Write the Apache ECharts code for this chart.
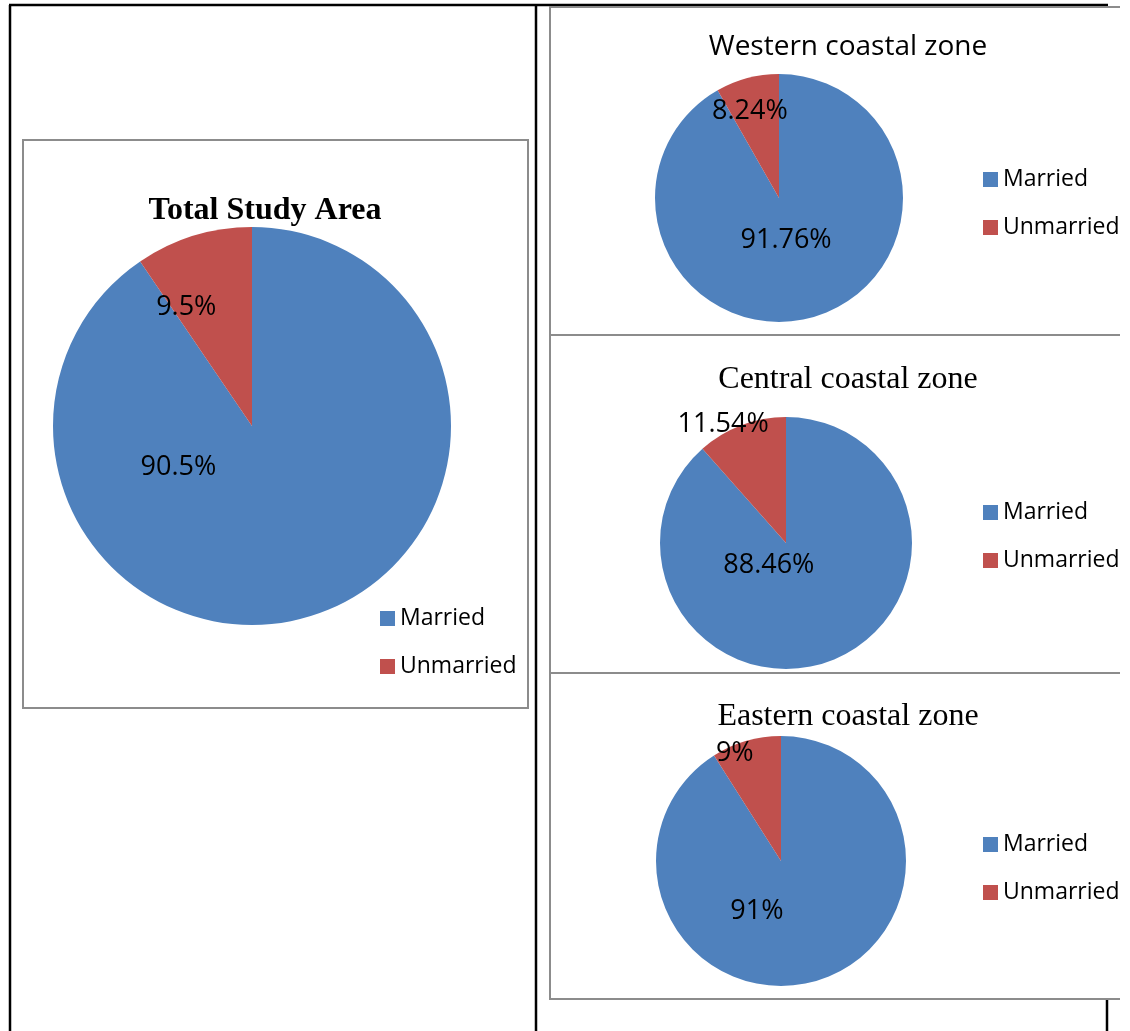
<!DOCTYPE html>
<html>
<head>
<meta charset="utf-8">
<title>Marital status by zone</title>
<script src="https://cdn.jsdelivr.net/npm/echarts@6/dist/echarts.min.js"></script>
<style>
  html, body { margin: 0; padding: 0; background: #ffffff; }
  #chart { width: 1130px; height: 1031px; }
</style>
</head>
<body>
<div id="chart"></div>
<script>
// Marital status shares (%) for the whole study area and each coastal zone
const categories = ['Married', 'Unmarried'];
const totalArea = [90.5, 9.5];
const westernZone = [91.76, 8.24];
const centralZone = [88.46, 11.54];
const easternZone = [91, 9];

const panelTitles = ['Total Study Area', 'Western coastal zone', 'Central coastal zone', 'Eastern coastal zone'];

const BLUE = '#4F81BD';
const RED = '#C0504D';
const LABEL_FONT = '"Open Sans", "Noto Sans", sans-serif';
const SERIF = '"Liberation Serif", "DejaVu Serif", serif';

// Pie geometry: centre and radius per panel
const pies = [
  { values: totalArea,   center: [252, 426], radius: 199 },
  { values: westernZone, center: [779, 198], radius: 124 },
  { values: centralZone, center: [786, 543], radius: 126 },
  { values: easternZone, center: [781, 861], radius: 125 }
];

// Best-fit label spots: [angle clockwise from 12 o'clock (deg), distance as fraction of radius]
const labelSpots = [
  [[-118.4, 0.42], [-28.6, 0.69]],
  [[170, 0.33], [-18.2, 0.75]],
  [[220.4, 0.21], [-27.5, 1.08]],
  [[206.6, 0.43], [-22.9, 0.95]]
];
// small baseline nudge so the glyphs sit visually centred
const LABEL_NUDGE_Y = 2;

const series = pies.map(function (p, si) {
  return {
    type: 'pie',
    center: p.center,
    radius: p.radius,
    startAngle: 90,
    clockwise: true,
    animation: false,
    silent: true,
    itemStyle: { borderWidth: 0 },
    label: {
      show: true,
      position: 'inside',
      color: '#000',
      fontFamily: LABEL_FONT,
      fontSize: 27,
      formatter: function (d) { return d.value + '%'; }
    },
    labelLine: { show: false },
    labelLayout: function (params) {
      const spot = labelSpots[si][params.dataIndex];
      const a = spot[0] * Math.PI / 180;
      const r = spot[1] * p.radius;
      return {
        x: p.center[0] + r * Math.sin(a),
        y: p.center[1] - r * Math.cos(a) + LABEL_NUDGE_Y,
        align: 'center',
        verticalAlign: 'middle'
      };
    },
    data: categories.map(function (c, i) {
      return { name: c, value: p.values[i], itemStyle: { color: i === 0 ? BLUE : RED } };
    })
  };
});

// Legend placement per panel (left edge of swatch, top of first row)
const legendSpots = [[380, 607], [983, 168], [983, 501], [983, 833]];
const legends = legendSpots.map(function (pos) {
  return {
    data: categories,
    orient: 'vertical',
    left: pos[0],
    top: pos[1],
    padding: 0,
    icon: 'rect',
    itemWidth: 15,
    itemHeight: 15,
    itemGap: 25,
    selectedMode: false,
    textStyle: { fontFamily: LABEL_FONT, fontSize: 23, lineHeight: 22, color: '#000' }
  };
});

const titleStyles = [
  { x: 265, y: 211, font: 'bold 32px ' + SERIF },
  { x: 848, y: 47,  font: '28px ' + LABEL_FONT },
  { x: 848, y: 380, font: '32px ' + SERIF },
  { x: 848, y: 717, font: '32px ' + SERIF }
];

const GRAY = '#8c8c8c';
function line(x1, y1, x2, y2, color, w) {
  return { type: 'line', silent: true, shape: { x1: x1, y1: y1, x2: x2, y2: y2 }, style: { stroke: color, lineWidth: w } };
}

const graphics = [
  // table rules
  line(9, 5, 1108, 5, '#000', 2.5),
  line(10, 5, 10, 1031, '#000', 2.5),
  line(536, 5, 536, 1031, '#000', 2.5),
  line(1107, 999, 1107, 1031, '#000', 2.5),
  // chart frame, left panel
  { type: 'rect', silent: true, shape: { x: 23, y: 140, width: 505, height: 568 }, style: { fill: 'none', stroke: GRAY, lineWidth: 2 } },
  // chart frames, right column
  line(549, 7, 1120, 7, GRAY, 2),
  line(550, 7, 550, 999, GRAY, 2),
  line(549, 335, 1120, 335, GRAY, 2),
  line(549, 673, 1120, 673, GRAY, 2),
  line(549, 999, 1120, 999, GRAY, 2)
].concat(titleStyles.map(function (t, i) {
  return {
    type: 'text', silent: true, z: 10,
    x: t.x, y: t.y,
    style: { text: panelTitles[i], font: t.font, fill: '#000', align: 'center', verticalAlign: 'middle' }
  };
}));

const chart = echarts.init(document.getElementById('chart'), null, { renderer: 'canvas' });
chart.setOption({
  backgroundColor: '#ffffff',
  animation: false,
  legend: legends,
  series: series,
  graphic: graphics
});
</script>
</body>
</html>
